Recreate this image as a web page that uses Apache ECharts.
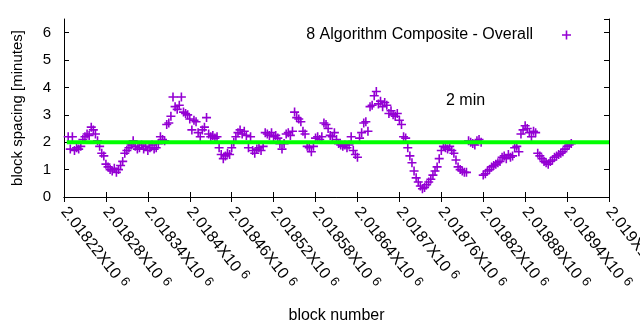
<!DOCTYPE html>
<html>
<head>
<meta charset="utf-8">
<script src="https://cdn.jsdelivr.net/npm/echarts@6/dist/echarts.min.js"></script>
<style>html,body{margin:0;padding:0;background:#fff}#chart{width:640px;height:330px}</style>
</head>
<body>
<div id="chart"></div>
<script>
// ---- data ----
const seriesName = '8 Algorithm Composite - Overall';
const startBlock = 2018226;   // first block plotted
const blockStep = 3;          // blocks between plotted samples
const spacing = [
  2.2,1.75,2.2,1.7,1.8,1.75,1.85,2.1,2.2,2.3,
  2.25,2.55,2.45,2.3,2.05,1.85,1.6,1.5,1.2,1.1,
  1.0,0.95,1.05,0.9,1.0,1.15,1.3,1.6,1.7,1.8,
  1.9,2.05,1.85,1.75,1.8,1.9,1.75,1.85,1.7,1.8,
  1.9,1.75,1.8,1.95,2.2,2.1,2.05,2.65,2.7,2.95,
  3.65,3.3,3.2,3.35,3.65,3.1,3.05,3.0,2.85,2.45,
  2.8,2.75,2.35,2.2,2.45,2.55,2.9,2.3,2.2,2.25,
  2.15,2.2,1.8,1.55,1.4,1.5,1.6,1.55,1.8,2.0,
  2.2,2.35,2.45,2.3,2.4,2.25,1.8,2.2,1.7,1.6,
  1.75,1.8,1.7,1.85,2.35,2.3,2.25,2.35,2.2,2.25,
  2.15,1.95,1.75,1.95,2.3,2.35,2.25,2.4,3.1,2.9,
  2.85,2.75,2.4,2.3,1.85,1.8,1.65,1.85,2.15,2.2,
  2.1,2.2,2.7,2.65,2.5,2.25,2.2,2.35,2.1,1.95,
  1.9,1.85,1.9,1.8,1.9,2.2,1.7,1.55,1.45,2.15,
  2.35,2.7,2.75,2.4,3.3,3.35,3.7,3.85,3.4,3.5,
  3.3,3.45,3.35,3.05,3.15,3.0,2.95,3.05,2.8,2.65,
  2.2,2.15,1.8,1.5,1.25,0.95,0.7,0.55,0.4,0.3,
  0.35,0.45,0.55,0.65,0.8,0.95,1.1,1.4,1.7,1.85,
  1.8,1.75,1.85,1.7,1.6,1.35,1.1,1.0,0.95,0.9,
  0.9,2.05,2.0,1.95,1.9,2.05,2.1,2.0,0.8,0.85,
  0.95,1.0,1.1,1.15,1.2,1.25,1.3,1.45,1.5,1.4,
  1.55,1.45,1.5,1.8,1.85,1.65,2.3,2.45,2.6,2.5,
  2.35,2.2,2.4,2.35,1.6,1.5,1.4,1.3,1.25,1.2,
  1.3,1.35,1.45,1.5,1.55,1.6,1.65,1.75,1.85,1.9,
  1.95
];
const refLevel = 2;            // green reference line (minutes)
const refLabel = '2 min';
const xMin = 2018220, xMax = 2019000, xInterval = 60;
const xTickMantissas = ['2.01822','2.01828','2.01834','2.0184','2.01846','2.01852','2.01858',
  '2.01864','2.0187','2.01876','2.01882','2.01888','2.01894','2.019'];
const xTickExponent = '6';
const yTickLabels = ['0','1','2','3','4','5','6'];

// ---- chart ----
const points = spacing.map((v, i) => [startBlock + i * blockStep, v]);
const plus = 'path://M3.7,0H5.3V3.7H9V5.3H5.3V9H3.7V5.3H0V3.7H3.7Z';
const FONT = 'Liberation Sans';
const chart = echarts.init(document.getElementById('chart'), null, {renderer: 'canvas'});
const axisLineStyle = {color: '#000', width: 1};
chart.setOption({
  animation: false,
  textStyle: {fontFamily: FONT},
  grid: {left: 64, right: 31, top: 19, bottom: 133, containLabel: false, outerBoundsMode: 'none'},
  legend: {
    data: [{name: seriesName, icon: plus}],
    right: 64, top: 22, itemWidth: 9, itemHeight: 9, align: 'right',
    textStyle: {fontFamily: FONT, fontSize: 16, color: '#000', padding: [0, 24, 0, 0]}
  },
  xAxis: [{
    type: 'value', min: xMin, max: xMax, interval: xInterval,
    name: 'block number', nameLocation: 'middle', nameGap: 111,
    nameTextStyle: {fontFamily: FONT, fontSize: 16, color: '#000'},
    axisLine: {lineStyle: axisLineStyle},
    axisTick: {inside: true, length: 5, lineStyle: axisLineStyle},
    splitLine: {show: false},
    axisLabel: {
      rotate: -52, margin: 12, fontFamily: FONT, fontSize: 16, color: '#000',
      formatter: v => {
        const m = xTickMantissas[Math.round((v - xMin) / xInterval)];
        return m ? '{m|' + m + 'X10}{e|' + xTickExponent + '}' : '';
      },
      rich: {
        m: {fontFamily: FONT, fontSize: 16, color: '#000'},
        e: {fontFamily: FONT, fontSize: 13, color: '#000', padding: [0, 0, 6, 5]}
      }
    }
  }, {
    type: 'value', position: 'top', min: xMin, max: xMax, interval: xInterval,
    axisLine: {show: true, lineStyle: axisLineStyle},
    axisTick: {inside: true, length: 5, lineStyle: axisLineStyle},
    axisLabel: {show: false}, splitLine: {show: false}
  }],
  yAxis: [{
    type: 'value', min: 0, max: 6.5, interval: 1,
    name: 'block spacing [minutes]', nameLocation: 'middle', nameGap: 39,
    nameTextStyle: {fontFamily: FONT, fontSize: 15, color: '#000'},
    axisLine: {show: true, lineStyle: axisLineStyle},
    axisTick: {inside: true, length: 5, lineStyle: axisLineStyle},
    splitLine: {show: false},
    axisLabel: {
      margin: 13, fontFamily: FONT, fontSize: 15, color: '#000', showMaxLabel: false,
      formatter: v => (Number.isInteger(v) ? yTickLabels[v] : '')
    }
  }, {
    type: 'value', position: 'right', min: 0, max: 6.5, interval: 1,
    axisLine: {show: true, lineStyle: axisLineStyle},
    axisTick: {inside: true, length: 5, lineStyle: axisLineStyle},
    axisLabel: {show: false}, splitLine: {show: false}
  }],
  series: [{
    name: seriesName, type: 'scatter', data: points,
    symbol: plus, symbolSize: 9,
    itemStyle: {color: '#9400d3', opacity: 1}, z: 2
  }, {
    name: 'ref', type: 'line', data: [[startBlock - 2, refLevel], [xMax, refLevel]],
    symbol: 'none', lineStyle: {color: '#00ff00', width: 4}, z: 3, silent: true
  }],
  graphic: [{
    type: 'text', left: 446, top: 93,
    style: {text: refLabel, font: '16px "Liberation Sans"', fill: '#000'}
  }]
});
</script>
</body>
</html>
